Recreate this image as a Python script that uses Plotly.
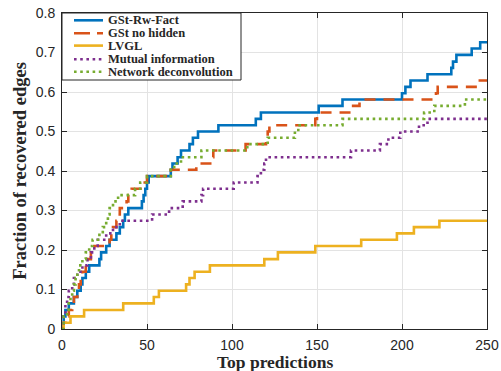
import plotly.graph_objects as go

# ---- data ----
series_names = ["GSt-Rw-Fact", "GSt no hidden", "LVGL", "Mutual information", "Network deconvolution"]

gst_x = [0, 1, 2, 4, 7, 9, 11, 12, 14, 16, 22, 23, 26, 28, 32, 34, 36, 37, 39, 47,
         48, 49, 50, 51, 64, 65, 68, 70, 75, 77, 80, 92, 114, 117, 151, 165, 200, 202, 205, 215,
         229, 230, 232, 241, 246, 250]
gst_y = [0, 0.032, 0.048, 0.065, 0.081, 0.097, 0.113, 0.129, 0.145, 0.161,
         0.177, 0.194, 0.210, 0.226, 0.242, 0.258, 0.274, 0.290, 0.306, 0.323,
         0.339, 0.355, 0.371, 0.387, 0.403, 0.419, 0.435, 0.452, 0.468, 0.484,
         0.500, 0.516, 0.532, 0.548, 0.565, 0.581, 0.597, 0.613, 0.629, 0.645,
         0.661, 0.677, 0.694, 0.710, 0.726, 0.726]

nohid_x = [0, 1, 3, 4, 6, 7, 9, 10, 11, 12, 14, 15, 17, 19, 28, 29, 30, 32, 33, 34,
           38, 39, 41, 47, 50, 64, 79, 88, 89, 108, 120, 121, 122, 149, 150, 170, 175, 220, 221, 245, 250]
nohid_y = [0, 0.016, 0.032, 0.048, 0.065, 0.081, 0.097, 0.113, 0.129, 0.145,
           0.161, 0.177, 0.194, 0.210, 0.226, 0.242, 0.258, 0.274, 0.290, 0.306,
           0.323, 0.339, 0.355, 0.371, 0.387, 0.403, 0.419, 0.435, 0.452, 0.468,
           0.484, 0.500, 0.516, 0.532, 0.548, 0.565, 0.581, 0.597, 0.613, 0.629, 0.629]

lvgl_x = [0, 1, 5, 13, 36, 54, 57, 73, 75, 78, 87, 119, 127, 149, 176, 197, 207, 222, 250]
lvgl_y = [0, 0.016, 0.032, 0.048, 0.065, 0.081, 0.097, 0.113, 0.129, 0.145,
          0.161, 0.177, 0.194, 0.210, 0.226, 0.242, 0.258, 0.274, 0.274]

mi_x = [0, 1, 2, 3, 4, 6, 7, 9, 12, 15, 17, 19, 21, 26, 30, 34, 53, 63, 71, 82,
        83, 101, 115, 117, 119, 120, 170, 187, 192, 199, 210, 215, 250]
mi_y = [0, 0.032, 0.065, 0.081, 0.097, 0.113, 0.129, 0.145, 0.161, 0.177,
        0.194, 0.210, 0.226, 0.242, 0.258, 0.274, 0.290, 0.306, 0.323, 0.339,
        0.355, 0.371, 0.387, 0.403, 0.419, 0.435, 0.452, 0.468, 0.484, 0.500,
        0.516, 0.532, 0.532]

nd_x = [0, 1, 3, 4, 5, 6, 7, 8, 9, 10, 12, 14, 16, 18, 22, 24, 26, 27, 28, 30,
        33, 43, 46, 50, 64, 66, 70, 82, 109, 121, 137, 139, 165, 213, 219, 237, 250]
nd_y = [0, 0.032, 0.048, 0.065, 0.081, 0.097, 0.113, 0.129, 0.145, 0.161,
        0.177, 0.194, 0.210, 0.226, 0.242, 0.258, 0.274, 0.290, 0.306, 0.323,
        0.339, 0.355, 0.371, 0.387, 0.403, 0.419, 0.435, 0.452, 0.468, 0.484,
        0.500, 0.516, 0.532, 0.548, 0.565, 0.581, 0.581]

x_ticks = [0, 50, 100, 150, 200, 250]
y_ticks = [0, 0.1, 0.2, 0.3, 0.4, 0.5, 0.6, 0.7, 0.8]
y_ticklabels = ["0", "0.1", "0.2", "0.3", "0.4", "0.5", "0.6", "0.7", "0.8"]
x_title = "Top predictions"
y_title = "Fraction of recovered edges"

# ---- styling ----
colors = ["#0072BD", "#D95319", "#EDB120", "#7E2F8E", "#77AC30"]
dashes = ["solid", "11px,8px", "solid", "2.6px,3.6px", "2.6px,3.6px"]
legend_dashes = ["solid", "16px,7px", "solid", "2.6px,3.6px", "2.6px,3.6px"]
xs = [gst_x, nohid_x, lvgl_x, mi_x, nd_x]
ys = [gst_y, nohid_y, lvgl_y, mi_y, nd_y]

fig = go.Figure()
for name, x, y, c, d in zip(series_names, xs, ys, colors, dashes):
    fig.add_trace(go.Scatter(
        x=x, y=y, name=name, mode="lines", line_shape="hv",
        line=dict(color=c, width=2.6, dash=d), showlegend=False,
    ))

axis_col = "#262626"
tick_font = dict(family="Liberation Sans, Arial, sans-serif", size=14, color=axis_col)
xtitle_font = dict(family="Liberation Serif, Times New Roman, serif", size=17.5, color=axis_col, weight="bold")
ytitle_font = dict(family="Liberation Serif, Times New Roman, serif", size=18.5, color=axis_col, weight="bold")
legend_font = dict(family="Liberation Serif, Times New Roman, serif", size=12.5, color=axis_col, weight="bold")

# ---- legend box drawn in paper coordinates (plot area: 425 x 316 px) ----
W, H = 425.0, 316.0
box = dict(x0=0, x1=179 / W, y0=1 - 67 / H, y1=1)
row_px = [7.3, 20.3, 32.6, 46.3, 58.8]   # row centres, px below top of axes
shapes = [dict(type="rect", xref="paper", yref="paper", layer="above",
               fillcolor="white", line=dict(color=axis_col, width=1), **box)]
annotations = []
for name, c, d, r in zip(series_names, colors, legend_dashes, row_px):
    yp = 1 - r / H
    shapes.append(dict(type="line", xref="paper", yref="paper", layer="above",
                       x0=12 / W, x1=41 / W, y0=yp, y1=yp,
                       line=dict(color=c, width=2.6, dash=d)))
    annotations.append(dict(text=name, xref="paper", yref="paper", x=43.5 / W, y=yp,
                            xanchor="left", yanchor="middle", showarrow=False,
                            font=legend_font))

# x-axis title as a paper annotation just under the tick labels
annotations.append(dict(text=x_title, xref="paper", yref="paper", x=0.5, y=0,
                        xanchor="center", yanchor="top", yshift=-22, showarrow=False,
                        borderpad=0, font=xtitle_font))

fig.update_layout(
    width=501, height=371,
    margin=dict(l=62, r=14, t=13, b=42),
    paper_bgcolor="white", plot_bgcolor="white",
    showlegend=False,
    shapes=shapes, annotations=annotations,
    xaxis=dict(
        range=[0, 250], tickvals=x_ticks, ticktext=[str(v) for v in x_ticks],
        showgrid=True, gridcolor="#e3e3e3", gridwidth=1,
        showline=True, linecolor=axis_col, linewidth=1, mirror="allticks",
        ticks="inside", ticklen=5, tickcolor=axis_col, tickfont=tick_font,
        ticklabelstandoff=3,
        zeroline=False, automargin=False,
    ),
    yaxis=dict(
        range=[0, 0.8], tickvals=y_ticks, ticktext=y_ticklabels,
        showgrid=True, gridcolor="#e3e3e3", gridwidth=1,
        showline=True, linecolor=axis_col, linewidth=1, mirror="allticks",
        ticks="inside", ticklen=5, tickcolor=axis_col, tickfont=tick_font,
        ticklabelstandoff=3,
        zeroline=False, automargin=False,
        title=dict(text=y_title, font=ytitle_font, standoff=4),
    ),
)

fig.write_html("out.html", config={"displayModeBar": False},
               post_script="document.body.style.margin='0';document.body.style.overflow='hidden';")
